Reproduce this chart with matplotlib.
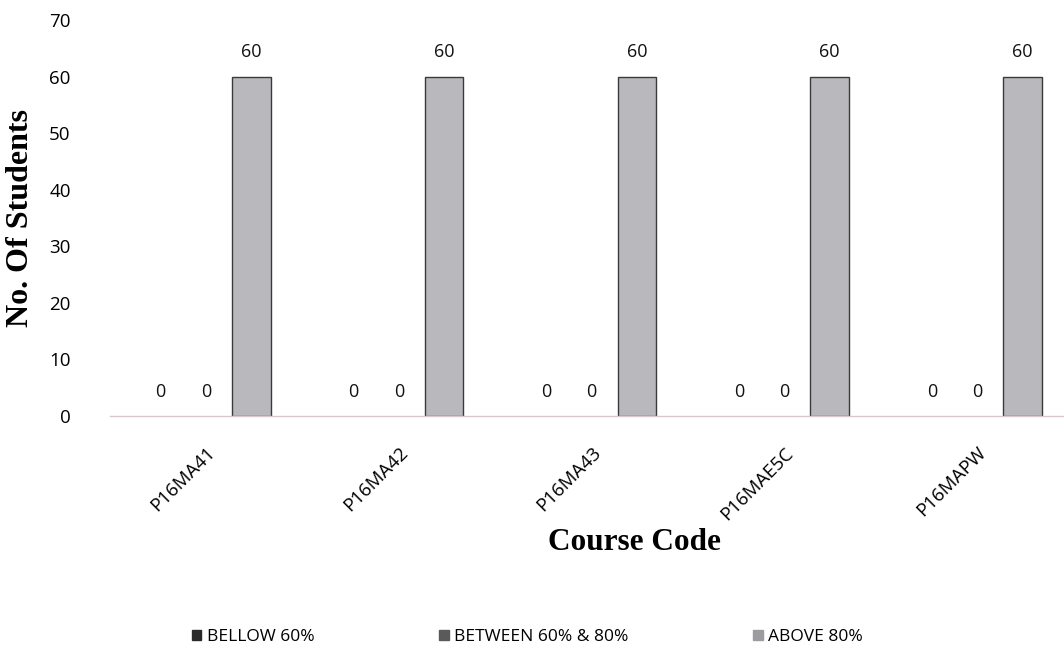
import matplotlib
matplotlib.use("Agg")
import matplotlib.pyplot as plt
import numpy as np

courses = ["P16MA41", "P16MA42", "P16MA43", "P16MAE5C", "P16MAPW"]
series_names = ["BELLOW 60%", "BETWEEN 60% & 80%", "ABOVE 80%"]
bellow = [0, 0, 0, 0, 0]
between = [0, 0, 0, 0, 0]
above = [60, 60, 60, 60, 60]
colors = ["#2a2a2a", "#5a5a5c", "#9c9ca0"]
fill_colors = ["#2a2a2a", "#5a5a5c", "#b9b9bd"]

plt.rcParams['font.family'] = ['Open Sans', 'DejaVu Sans']

fig = plt.figure(figsize=(10.64, 6.48), dpi=100)
ax = fig.add_axes([0.103, 0.358, 0.897, 0.611])

x = np.arange(len(courses))
offsets = [-0.235, 0.0, 0.235]
width = 0.2
handles = []
for i, (vals, name) in enumerate(zip([bellow, between, above], series_names)):
    ax.bar(x + offsets[i], vals, width, color=fill_colors[i],
           edgecolor="#3a3a3a", linewidth=1.0 if i == 2 else 0, label=name)
    for xi, v in zip(x + offsets[i], vals):
        ax.annotate(str(v), (xi, v), xytext=(0, 11), textcoords="offset points",
                    ha="center", va="bottom", fontsize=13, color="#111111")
    handles.append(plt.Rectangle((0, 0), 1, 1, color=colors[i]))

ax.set_xlim(-0.5, 4.45)
ax.set_ylim(0, 70)
ax.set_yticks(range(0, 71, 10))
ax.tick_params(axis="y", length=0, labelsize=13.5, pad=28)
ax.tick_params(axis="x", length=0, labelsize=13.5, pad=20)
ax.set_xticks(x)
ax.set_xticklabels(courses, rotation=45, ha="right", rotation_mode="anchor")
for s in ["top", "right", "left"]:
    ax.spines[s].set_visible(False)
ax.spines["bottom"].set_color("#d9c8cc")
ax.spines["bottom"].set_linewidth(1.0)

ax.set_ylabel("No. Of Students", family="Liberation Serif", fontweight="bold",
              fontsize=23, labelpad=10)
fig.text(634 / 1064, 1 - 543 / 648, "Course Code", family="Liberation Serif",
         fontweight="bold", fontsize=22.5, ha="center", va="center")

fig.legend(handles, series_names, loc="center", bbox_to_anchor=(0.4956, 1 - 637 / 648),
           ncol=3, frameon=False, fontsize=12.5, handlelength=0.55, handleheight=0.55,
           handletextpad=0.3, columnspacing=7.2)

fig.savefig("out.png", dpi=100)
